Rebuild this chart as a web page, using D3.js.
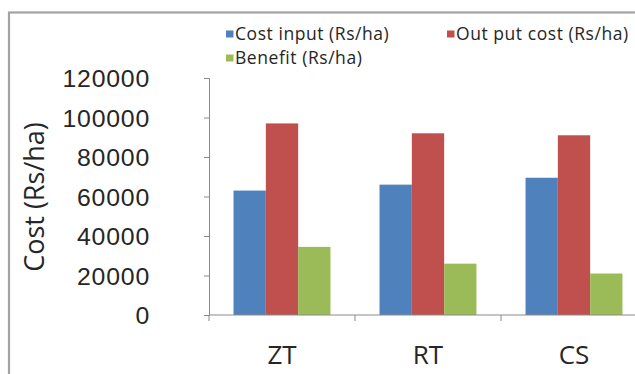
<!DOCTYPE html>
<html>
<head>
<meta charset="utf-8">
<script src="https://cdn.jsdelivr.net/npm/d3@7"></script>
<style>
  html, body { margin: 0; padding: 0; background: #fff; }
  svg { display: block; font-family: "Open Sans", "Liberation Sans", sans-serif; }
</style>
</head>
<body>
<svg id="chart" width="635" height="374"></svg>
<script>
// Tillage systems on the x axis
const categories = ["ZT", "RT", "CS"];
// Series names as shown in the legend
const seriesNames = ["Cost input (Rs/ha)", "Out put cost (Rs/ha)", "Benefit (Rs/ha)"];
// Values per tillage system (Rs/ha)
const costInput = [63000, 66000, 69500];
const outputCost = [97000, 92000, 91000];
const benefit = [34500, 26000, 21000];
// Y axis ticks
const yTicks = [0, 20000, 40000, 60000, 80000, 100000, 120000];

const colors = ["#4F81BD", "#C0504D", "#9BBB59"];
const seriesValues = [costInput, outputCost, benefit];

const svg = d3.select("#chart");

// Outer chart frame
svg.append("rect")
  .attr("x", 9).attr("y", 12.5)
  .attr("width", 640).attr("height", 380)
  .attr("fill", "none")
  .attr("stroke", "#a3a3a3")
  .attr("stroke-width", 2.2);

const plot = { left: 209, right: 647, top: 78, bottom: 315 };

const y = d3.scaleLinear().domain([0, 120000]).range([plot.bottom, plot.top]);
const x0 = d3.scaleBand().domain(categories)
  .range([plot.left, plot.right])
  .paddingInner(0.336).paddingOuter(0.168);
const x1 = d3.scaleBand().domain(d3.range(seriesNames.length))
  .range([0, x0.bandwidth()]);

// Bars
const groups = svg.append("g").selectAll("g")
  .data(categories)
  .join("g")
  .attr("transform", d => `translate(${x0(d)},0)`);

groups.selectAll("rect")
  .data((d, i) => seriesValues.map((vals, s) => ({ s, v: vals[i] })))
  .join("rect")
  .attr("x", d => x1(d.s))
  .attr("width", x1.bandwidth())
  .attr("y", d => y(d.v))
  .attr("height", d => y(0) - y(d.v))
  .attr("fill", d => colors[d.s]);

// Y axis
const yAxis = svg.append("g")
  .attr("transform", `translate(${plot.left},0)`)
  .call(d3.axisLeft(y).tickValues(yTicks).tickFormat(d3.format("d"))
    .tickSize(5).tickPadding(54));
yAxis.select(".domain").attr("stroke", "#8a8a8a");
yAxis.selectAll(".tick line").attr("stroke", "#8a8a8a");
yAxis.selectAll(".tick text")
  .attr("font-size", 24.8)
  .attr("letter-spacing", 0.8)
  .attr("fill", "#262626")
  .attr("dy", "0.36em");

// X axis line with category boundary ticks
const xAxisG = svg.append("g");
xAxisG.append("line")
  .attr("x1", plot.left).attr("x2", plot.right)
  .attr("y1", y(0)).attr("y2", y(0))
  .attr("stroke", "#8a8a8a");
const step = x0.step();
const boundaries = categories.map(c => x0(c) - (step - x0.bandwidth()) / 2).concat([plot.right]);
xAxisG.selectAll("line.bt")
  .data(boundaries)
  .join("line")
  .attr("class", "bt")
  .attr("x1", d => d).attr("x2", d => d)
  .attr("y1", y(0)).attr("y2", y(0) + 6)
  .attr("stroke", "#8a8a8a");

xAxisG.selectAll("text")
  .data(categories)
  .join("text")
  .attr("x", d => x0(d) + x0.bandwidth() / 2)
  .attr("y", 364)
  .attr("text-anchor", "middle")
  .attr("font-size", 26)
  .attr("fill", "#262626")
  .text(d => d);

// Y axis title
svg.append("text")
  .attr("transform", "translate(44,197) rotate(-90)")
  .attr("text-anchor", "middle")
  .attr("font-size", 27)
  .attr("fill", "#262626")
  .text("Cost (Rs/ha)");

// Legend
const legendPos = [
  { x: 226, y: 40 },
  { x: 447, y: 40 },
  { x: 226, y: 64 }
];
const legend = svg.append("g").selectAll("g")
  .data(seriesNames)
  .join("g")
  .attr("transform", (d, i) => `translate(${legendPos[i].x},${legendPos[i].y})`);
legend.append("rect")
  .attr("x", 0).attr("y", -9.5)
  .attr("width", 7.5).attr("height", 7)
  .attr("fill", (d, i) => colors[i]);
legend.append("text")
  .attr("x", 9)
  .attr("font-size", 17.5)
  .attr("letter-spacing", 0.55)
  .attr("fill", "#262626")
  .text(d => d);
</script>
</body>
</html>
